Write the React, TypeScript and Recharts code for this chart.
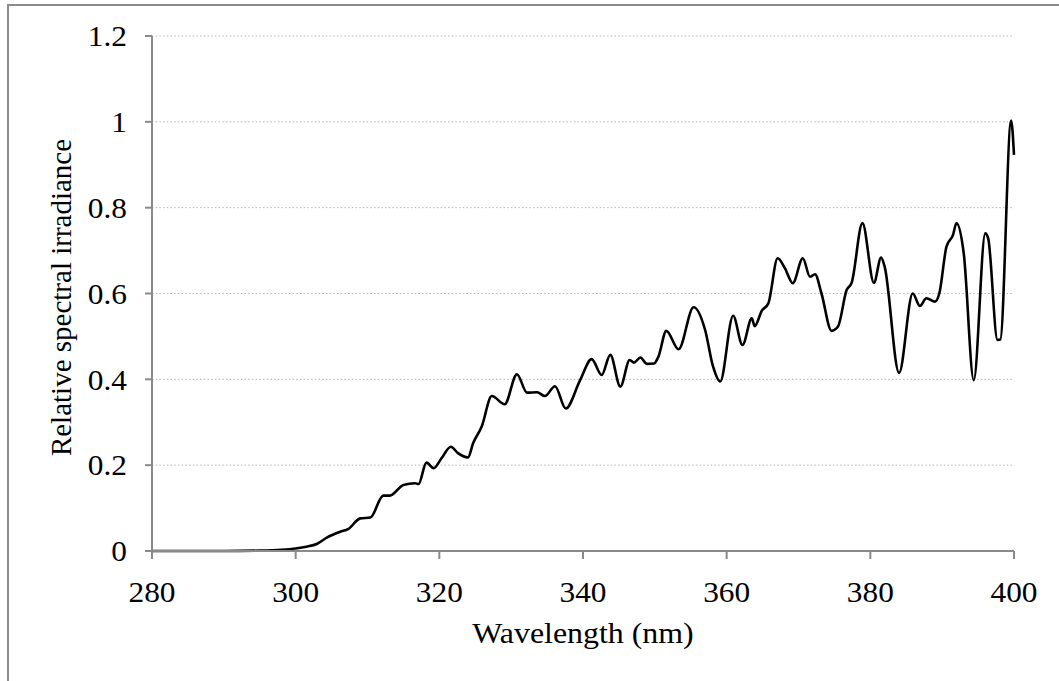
import React from 'react';
import { LineChart, Line, XAxis, YAxis, CartesianGrid, Label } from 'recharts';

const wavelengths = [
  280, 290, 295, 298, 300, 301.5, 303.0, 304.4, 306.2, 307.3, 309.0, 310.4, 312.2, 313.1, 315.0, 316.6, 317.1,
  318.2, 319.2, 320.3, 321.6, 322.6, 324.0, 324.7, 325.9, 327.3, 329.1, 330.8, 332.2, 333.6, 334.7, 336.1,
  337.6, 339.6, 341.2, 342.6, 343.8, 345.2, 346.5, 347.1, 348.0, 348.9, 349.9, 350.5, 351.6, 353.3, 355.4,
  357.0, 358.1, 359.1, 360.9, 362.2, 363.5, 363.9, 364.9, 365.8, 367.1, 368.1, 369.2, 370.6, 371.6, 372.3,
  373.2, 374.6, 375.5, 376.7, 377.4, 378.9, 380.5, 381.5, 382.0, 384.0, 385.9, 386.9, 387.8, 389.0, 389.6,
  390.6, 391.5, 392.0, 393.0, 394.4, 396.0, 396.4, 397.7, 398.1, 399.6, 400.0,
];

const irradiance = [
  0, 0, 0.001, 0.003, 0.006, 0.010, 0.017, 0.032, 0.045, 0.051, 0.076, 0.078, 0.129, 0.129, 0.154, 0.158, 0.156,
  0.206, 0.193, 0.216, 0.243, 0.228, 0.218, 0.251, 0.290, 0.361, 0.342, 0.412, 0.369, 0.370, 0.361, 0.384,
  0.332, 0.398, 0.447, 0.410, 0.457, 0.383, 0.445, 0.439, 0.451, 0.436, 0.437, 0.453, 0.513, 0.470, 0.568,
  0.515, 0.430, 0.395, 0.548, 0.480, 0.542, 0.524, 0.560, 0.577, 0.682, 0.659, 0.624, 0.682, 0.639, 0.645,
  0.600, 0.513, 0.523, 0.608, 0.625, 0.764, 0.625, 0.684, 0.662, 0.415, 0.600, 0.571, 0.589, 0.581, 0.600,
  0.709, 0.736, 0.764, 0.694, 0.398, 0.740, 0.729, 0.492, 0.493, 1.003, 0.923,
];

const xTicks = [280, 300, 320, 340, 360, 380, 400];
const yTicks = [0, 0.2, 0.4, 0.6, 0.8, 1, 1.2];

const xTitle = 'Wavelength (nm)';
const yTitle = 'Relative spectral irradiance';

const data = wavelengths.map((wl, i) => ({ wl, v: irradiance[i] }));

const FONT = '"Liberation Serif", "Times New Roman", serif';
const AXIS = '#8a8a8a';
const SX = 1.08;

const XTick = (props: any) => {
  const { x, y, payload } = props;
  return (
    <g transform={`translate(${x},${y})`}>
      <text transform={`scale(${SX},1)`} textAnchor="middle" dy="0.71em" fontFamily={FONT} fontSize={29} fill="#000">
        {String(payload.value)}
      </text>
    </g>
  );
};

const YTick = (props: any) => {
  const { x, y, payload } = props;
  return (
    <g transform={`translate(${x},${y})`}>
      <text transform={`scale(${SX},1)`} textAnchor="end" dy="0.355em" fontFamily={FONT} fontSize={29} fill="#000">
        {String(payload.value)}
      </text>
    </g>
  );
};

const XTitle = (props: any) => {
  const vb = props.viewBox || {};
  const cx = vb.x + vb.width / 2;
  const cy = vb.y + 92;
  return (
    <g transform={`translate(${cx},${cy})`}>
      <text transform="scale(1.1,1)" textAnchor="middle" fontFamily={FONT} fontSize={29} fill="#000">
        {xTitle}
      </text>
    </g>
  );
};

const YTitle = (props: any) => {
  const vb = props.viewBox || {};
  const cx = vb.x + 71;
  const cy = vb.y + vb.height / 2 + 4;
  return (
    <text x={cx} y={cy} textAnchor="middle" fontFamily={FONT} fontSize={29} fill="#000" transform={`rotate(-90, ${cx}, ${cy})`}>
      {yTitle}
    </text>
  );
};

export default function App() {
  return (
    <div style={{ position: 'fixed', left: 0, top: 0, width: 1059, height: 681, overflow: 'hidden', background: '#fff' }}>
      <div
        style={{
          position: 'absolute',
          left: 7,
          top: 4,
          width: 1100,
          height: 720,
          borderLeft: '2px solid #8c8c8c',
          borderTop: '2px solid #8c8c8c',
        }}
      />
      <div style={{ position: 'absolute', left: 0, top: 0 }}>
        <LineChart width={1059} height={681} data={data} margin={{ top: 36, right: 45, left: 0, bottom: 0 }}>
          <CartesianGrid horizontal vertical={false} stroke="#b4b4b4" strokeDasharray="1.5 2.2" />
          <XAxis
            dataKey="wl"
            type="number"
            domain={[280, 400]}
            ticks={xTicks}
            height={130}
            tickSize={8}
            tickMargin={22}
            axisLine={{ stroke: AXIS, strokeWidth: 2 }}
            tickLine={{ stroke: AXIS, strokeWidth: 2 }}
            tick={(p: any) => <XTick {...p} />}
          >
            <Label content={<XTitle />} />
          </XAxis>
          <YAxis
            type="number"
            domain={[0, 1.2]}
            ticks={yTicks}
            width={152}
            tickSize={7}
            tickMargin={18}
            axisLine={{ stroke: AXIS, strokeWidth: 2 }}
            tickLine={{ stroke: AXIS, strokeWidth: 2 }}
            tick={(p: any) => <YTick {...p} />}
          >
            <Label content={<YTitle />} />
          </YAxis>
          <Line
            type="monotone"
            dataKey="v"
            stroke="#000"
            strokeWidth={2.6}
            dot={false}
            isAnimationActive={false}
          />
        </LineChart>
      </div>
    </div>
  );
}
